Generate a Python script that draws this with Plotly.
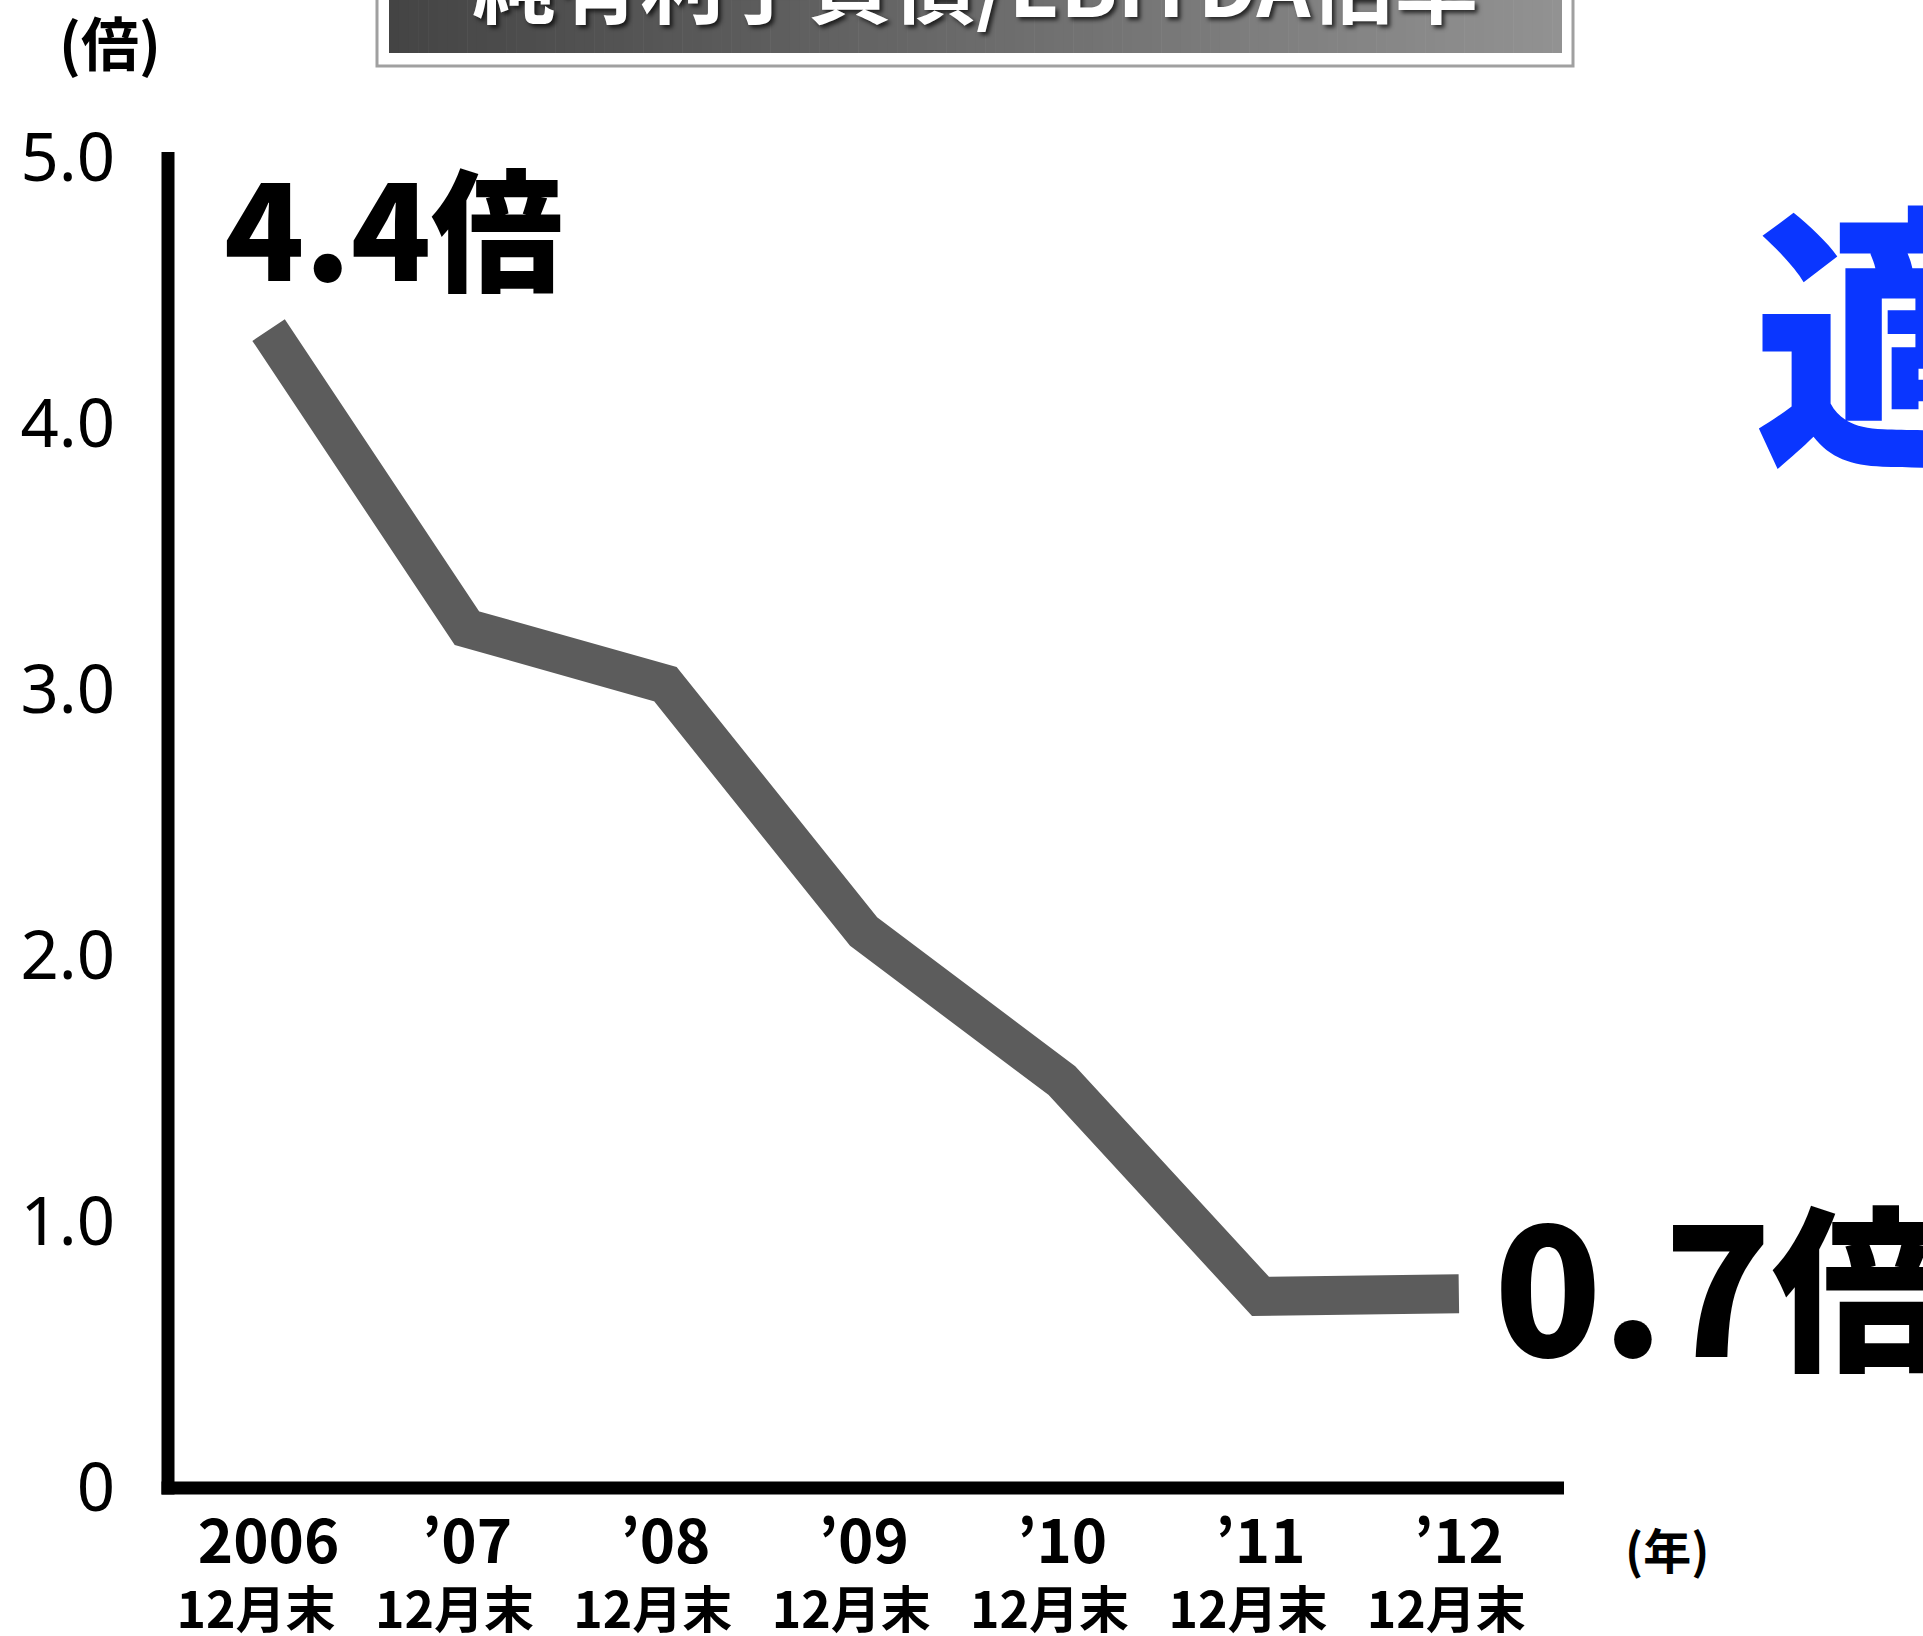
import plotly.graph_objects as go

# ---- data ----
years = ["2006", "’07", "’08", "’09", "’10", "’11", "’12"]
period = "12月末"
ratio = [4.35, 3.23, 3.02, 2.09, 1.53, 0.72, 0.73]
y_tickvals = [0, 1, 2, 3, 4, 5]
y_ticktext = ["0", "1.0", "2.0", "3.0", "4.0", "5.0"]
title_text = "純有利子負債/EBITDA倍率"
start_label = "4.4倍"
end_label = "0.7倍"
side_text = "適"
y_unit = "(倍)"
x_unit = "(年)"

categories = [f"{y} {period}" for y in years]
x_ticktext = [f"<span style='font-size:60px'>{y}</span><br>{period}\u2002" for y in years]

# ---- layout geometry (pixels) ----
W, H = 1923, 1636
ML, MR, MT, MB = 168, 359, 152, 148
PW, PH = W - ML - MR, H - MT - MB


def px(x):
    return (x - ML) / PW


def py(y):
    return (H - MB - y) / PH


JP = "Noto Sans CJK JP, Noto Sans CJK SC, sans-serif"

fig = go.Figure()
fig.add_trace(go.Scatter(
    x=categories, y=ratio, mode="lines",
    line=dict(color="#5c5c5c", width=39),
    hoverinfo="skip", showlegend=False,
))

shapes = []
# axis lines
shapes.append(dict(type="line", xref="paper", yref="paper",
                   x0=0, x1=0, y0=-6.5 / PH, y1=1,
                   line=dict(color="black", width=13)))
shapes.append(dict(type="line", xref="paper", yref="paper",
                   x0=-6.5 / PW, x1=1, y0=0, y1=0,
                   line=dict(color="black", width=13)))
# title box
shapes.append(dict(type="rect", xref="paper", yref="paper",
                   x0=px(377), x1=px(1573), y0=py(66), y1=py(-150),
                   fillcolor="white", line=dict(color="#a0a0a0", width=3)))
n = 120
x_left, x_right = 389, 1562
c0, c1 = 68, 146
for i in range(n):
    xa = x_left + (x_right - x_left) * i / n
    xb = x_left + (x_right - x_left) * (i + 1) / n + 0.6
    c = int(round(c0 + (c1 - c0) * (i + 0.5) / n))
    shapes.append(dict(type="rect", xref="paper", yref="paper",
                       x0=px(xa), x1=px(min(xb, x_right)), y0=py(53), y1=py(-150),
                       fillcolor=f"rgb({c},{c},{c})", line=dict(width=0)))

annotations = [
    dict(text=title_text, x=px(975), y=py(-20), xref="paper", yref="paper",
         showarrow=False, xanchor="center", yanchor="middle",
         font=dict(family=JP, size=84, color="white", weight="bold",
                   shadow="3px 3px 4px rgba(0,0,0,0.7)")),
    dict(text=start_label, x=px(393), y=py(223), xref="paper", yref="paper",
         showarrow=False, xanchor="center", yanchor="middle",
         font=dict(family=JP, size=132, color="black", weight=900)),
    dict(text=end_label, x=px(1492), y=py(1280), xref="paper", yref="paper",
         showarrow=False, xanchor="left", yanchor="middle",
         font=dict(family=JP, size=177, color="black", weight=900)),
    dict(text=side_text, x=px(1751), y=py(323), xref="paper", yref="paper",
         showarrow=False, xanchor="left", yanchor="middle",
         font=dict(family=JP, size=280, color="#0a36ff", weight=900)),
    dict(text=y_unit, x=px(110), y=py(41), xref="paper", yref="paper",
         showarrow=False, xanchor="center", yanchor="middle",
         font=dict(family=JP, size=58, color="black", weight="bold")),
    dict(text=x_unit, x=px(1667), y=py(1548), xref="paper", yref="paper",
         showarrow=False, xanchor="center", yanchor="middle",
         font=dict(family=JP, size=48, color="black", weight="bold")),
]

fig.update_layout(
    width=W, height=H,
    margin=dict(l=ML, r=MR, t=MT, b=MB, pad=0, autoexpand=False),
    paper_bgcolor="white", plot_bgcolor="white",
    shapes=shapes, annotations=annotations,
    showlegend=False,
    xaxis=dict(type="category", range=[-0.507, 6.53], showgrid=False,
               zeroline=False, showline=False, ticks="", automargin=False,
               tickvals=categories, ticktext=x_ticktext,
               tickfont=dict(family=JP, size=50, color="black", weight="bold"),
               ticklabelstandoff=24, fixedrange=True),
    yaxis=dict(range=[0, 5.019], tickvals=y_tickvals, ticktext=y_ticktext,
               showgrid=False, zeroline=False, showline=False, ticks="",
               automargin=False,
               tickfont=dict(family="Noto Sans, sans-serif", size=67, color="black"),
               ticklabelstandoff=52, fixedrange=True),
)

fig.write_html("out.html", config={"displayModeBar": False},
               post_script="document.body.style.margin='0';document.body.style.overflow='hidden';")
